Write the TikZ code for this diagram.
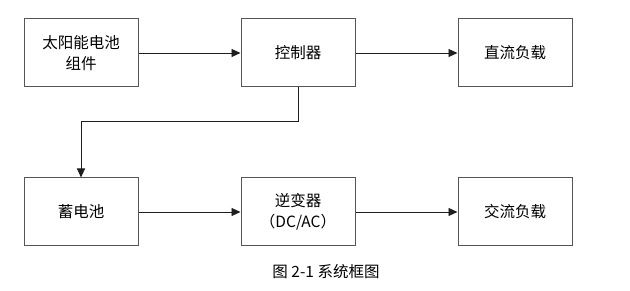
\documentclass[tikz,border=0pt]{standalone}
\usepackage{fontspec}
\setmainfont{Noto Sans CJK SC}
\usetikzlibrary{arrows.meta, positioning}
\definecolor{cline}{RGB}{30,30,30}
\definecolor{cframe}{RGB}{85,85,85}

\begin{document}
\begin{tikzpicture}[
    x=1pt, y=-1pt,
    >={Triangle[length=9pt, width=8pt]},
    every node/.style={font=\fontsize{15.5}{21}\selectfont},
    block/.style={draw=cframe, line width=1pt, minimum width=114pt,
        minimum height=68pt, inner sep=0pt, align=center},
    link/.style={->, line width=0.9pt, cline},
]
    \useasboundingbox (0,0) rectangle (630,291);

    % Top row
    \node[block] (solar) at (81,53) {太阳能电池\\组件};
    \node[block, right=102pt of solar] (ctrl) {控制器};
    \node[block, right=102pt of ctrl] (dcload) {直流负载};

    % Bottom row
    \node[block, below=90pt of solar] (battery) {蓄电池};
    \node[block, right=102pt of battery] (inverter) {逆变器\\（DC/AC）};
    \node[block, right=102pt of inverter] (acload) {交流负载};

    % Connections
    \draw[link] (solar) -- (ctrl);
    \draw[link] (ctrl) -- (dcload);
    \draw[link] (ctrl.south) -- ++(0,34) -| (battery.north);
    \draw[link] (battery) -- (inverter);
    \draw[link] (inverter) -- (acload);

    % Caption
    \node (caption) at (326,272) {图 2-1 系统框图};
\end{tikzpicture}
\end{document}
